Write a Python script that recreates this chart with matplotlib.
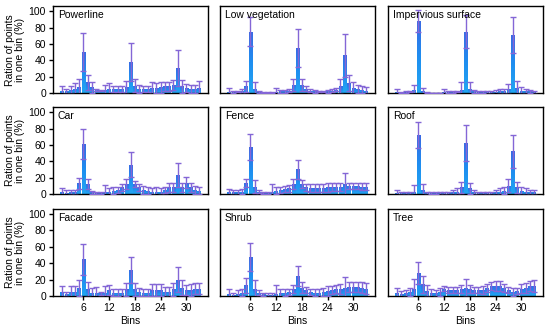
import numpy as np
import matplotlib
matplotlib.use('Agg')
import matplotlib.pyplot as plt
from matplotlib.colors import LinearSegmentedColormap

plt.rcParams['font.family'] = ['Liberation Sans', 'DejaVu Sans']

bins = list(range(1, 34))
xticks = [6, 12, 18, 24, 30]
classes = ['Powerline', 'Low vegetation', 'Impervious surface',
           'Car', 'Fence', 'Roof',
           'Facade', 'Shrub', 'Tree']

# mean ratio per bin (%)
powerline = [3, 2, 4, 5, 7, 50, 13, 7, 4, 3, 4, 5, 5, 5, 5, 7, 38, 9, 5, 5,
             5, 6, 6, 7, 8, 8, 10, 30, 8, 6, 5, 5, 6]
low_veg = [1, 1, 2, 2, 8, 75, 5, 1, 0.5, 0.5, 0.5, 1, 2, 2, 3, 10, 55, 10, 5, 3,
           2, 2, 2, 2, 3, 4, 8, 46, 12, 6, 5, 4, 3]
impervious = [1, 0.5, 1, 2, 4, 88, 2, 0.5, 0.3, 0.3, 0.3, 1, 1, 1, 2, 4, 75, 5, 2, 1,
              1, 1, 1, 1, 2, 2, 5, 71, 6, 3, 2, 2, 1]
car = [2, 1, 2, 2, 13, 61, 12, 2, 1, 1, 2, 2, 4, 5, 8, 12, 36, 12, 8, 5,
       4, 3, 3, 3, 5, 8, 8, 23, 8, 14, 8, 5, 4]
fence = [2, 2, 2, 3, 13, 57, 9, 3, 1, 1, 3, 4, 5, 6, 7, 12, 30, 12, 8, 7,
         7, 7, 7, 8, 9, 9, 9, 12, 10, 10, 10, 9, 9]
roof = [1, 1, 1, 1, 3, 72, 5, 1, 1, 1, 1, 1, 1, 2, 3, 8, 62, 7, 2, 1,
        1, 1, 1, 2, 3, 4, 10, 52, 8, 4, 3, 2, 2]
facade = [5, 2, 5, 5, 10, 45, 8, 4, 4, 3, 4, 7, 4, 4, 4, 8, 32, 8, 5, 4,
          4, 7, 7, 7, 5, 5, 8, 20, 10, 7, 7, 9, 9]
shrub = [2, 1, 2, 4, 13, 48, 8, 4, 2, 1, 1, 2, 3, 4, 5, 8, 24, 10, 7, 5,
         4, 4, 5, 6, 7, 8, 8, 10, 11, 11, 11, 10, 9]
tree = [3, 2, 3, 5, 8, 28, 14, 6, 3, 3, 5, 9, 7, 7, 7, 8, 10, 8, 7, 7,
        7, 10, 12, 12, 12, 10, 7, 5, 6, 9, 10, 12, 12]

# upper end of error bar per bin (%)
powerline_top = [8, 5, 9, 12, 17, 73, 22, 14, 5, 4, 10, 12, 9, 9, 9, 15, 61, 17, 10, 9,
                 9, 13, 12, 14, 14, 14, 16, 52, 16, 11, 10, 10, 15]
low_veg_top = [6, 2, 3, 5, 15, 93, 13, 2, 1, 1, 1, 6, 4, 4, 5, 17, 78, 17, 8, 5,
               4, 3, 3, 4, 5, 6, 17, 72, 22, 13, 10, 8, 7]
impervious_top = [5, 1, 2, 3, 10, 101, 6.5, 1, 0.5, 0.5, 0.5, 5, 2, 2, 3, 13, 95, 13, 4, 2,
                  2, 3, 3, 4, 5, 5, 11, 93, 15, 7, 5, 4, 3]
car_top = [7, 5, 5, 5, 20, 79, 18, 4, 2, 2, 11, 7, 8, 9, 12, 18, 51, 16, 12, 10,
           8, 7, 8, 7, 9, 14, 13, 38, 14, 21, 13, 10, 8]
fence_top = [6, 5, 5, 6, 18, 73, 17, 5, 2, 2, 12, 8, 9, 10, 11, 18, 42, 17, 12, 12,
             12, 12, 12, 13, 14, 14, 14, 26, 14, 14, 14, 13, 13]
roof_top = [5, 3, 3, 3, 11, 88, 12, 3, 2, 2, 3, 3, 3, 5, 7, 15, 84, 14, 5, 3,
            3, 3, 3, 5, 7, 8, 18, 72, 15, 9, 7, 5, 5]
facade_top = [12, 5, 12, 12, 19.5, 64, 17, 10, 11, 5, 12, 13, 8, 8, 9, 16, 48, 16, 10, 8,
              8, 14, 14, 14, 11, 11, 16, 35, 19, 13, 14, 16, 16]
shrub_top = [8, 4, 7, 8, 22, 65, 19, 7, 4, 3, 3, 13, 8, 8, 9, 13, 36, 17, 11, 9,
             8, 9, 10, 12, 12, 13, 14, 23, 17, 17, 17, 17, 16]
tree_top = [10, 6, 7, 10, 21, 41, 24, 13, 8, 7, 10, 12, 11, 11, 11, 13, 21, 13, 11, 11,
            12, 15, 17, 18, 18, 15, 11, 10, 10, 14, 16, 18, 19]

means = [powerline, low_veg, impervious, car, fence, roof, facade, shrub, tree]
tops = [powerline_top, low_veg_top, impervious_top, car_top, fence_top, roof_top,
        facade_top, shrub_top, tree_top]

cmap = LinearSegmentedColormap.from_list('bar', ['#22a6f2', '#1e8ef0', '#3a6ae4'])
grad = np.linspace(0, 1, 64).reshape(-1, 1)

fig = plt.figure(figsize=(5.5, 3.31), dpi=100)
lefts = [0.0964, 0.4, 0.7055]
bottoms = [0.719, 0.414, 0.106]
w, h = 0.282, 0.262

for i, name in enumerate(classes):
    r, c = divmod(i, 3)
    ax = fig.add_axes([lefts[c], bottoms[r], w, h])
    m = np.array(means[i], dtype=float)
    err = np.array(tops[i], dtype=float) - m
    bars = ax.bar(bins, m, width=0.8, color='#1e8ef0', linewidth=0, zorder=2)
    for b in bars:
        x0, y0 = b.get_x(), b.get_y()
        bw, bh = b.get_width(), b.get_height()
        im = ax.imshow(grad, cmap=cmap, origin='lower', aspect='auto',
                       extent=[x0, x0 + bw, y0, y0 + bh], zorder=2.5)
        im.set_clip_path(b)
    ax.errorbar(bins, m, yerr=err, fmt='none', ecolor='#8466d6',
                elinewidth=1, capsize=2, capthick=1, zorder=3)
    ax.set_xlim(-1.1, 35.1)
    ax.set_ylim(0, 106)
    ax.set_yticks([0, 20, 40, 60, 80, 100])
    ax.set_xticks(xticks)
    for s in ax.spines.values():
        s.set_linewidth(1)
    ax.tick_params(labelsize=7.5, length=3, width=1, pad=2)
    ax.text(0.03, 0.96, name, transform=ax.transAxes, fontsize=7.5,
            va='top', ha='left', zorder=5)
    if c == 0:
        ax.set_ylabel('Ration of points\nin one bin (%)', fontsize=7.5,
                      labelpad=3, linespacing=1.0)
    else:
        ax.tick_params(left=False, labelleft=False)
    if r == 2:
        ax.set_xlabel('Bins', fontsize=7.5, labelpad=2)
    else:
        ax.tick_params(bottom=False, labelbottom=False)

fig.savefig('out.png', dpi=100)
